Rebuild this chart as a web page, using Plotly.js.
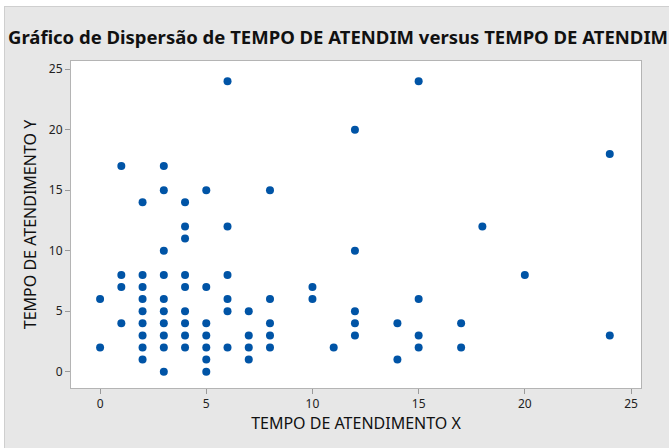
<!DOCTYPE html>
<html>
<head>
<meta charset="utf-8">
<script src="https://cdn.plot.ly/plotly-3.0.1.min.js"></script>
<style>
  html, body { margin: 0; padding: 0; background: #ffffff; }
  #wrap { position: relative; width: 669px; height: 448px; overflow: hidden; }
  #frame { position: absolute; left: 4px; top: 6px; width: 680px; height: 460px;
           background: #e7e7e7; border-left: 1px solid #cfcfcf; border-top: 1px solid #cfcfcf; }
  #chart { position: absolute; left: 0; top: 0; width: 669px; height: 448px; }
</style>
</head>
<body>
<div id="wrap">
  <div id="frame"></div>
  <div id="chart"></div>
</div>
<script>
// Data
const tempoX = [
  0, 0,
  1, 1, 1, 1,
  2, 2, 2, 2, 2, 2, 2, 2, 2,
  3, 3, 3, 3, 3, 3, 3, 3, 3, 3,
  4, 4, 4, 4, 4, 4, 4, 4, 4,
  5, 5, 5, 5, 5, 5, 5,
  6, 6, 6, 6, 6, 6,
  7, 7, 7, 7,
  8, 8, 8, 8, 8,
  10, 10,
  11,
  12, 12, 12, 12, 12,
  14, 14,
  15, 15, 15, 15,
  17, 17,
  18,
  20,
  24, 24
];
const tempoY = [
  6, 2,
  17, 8, 7, 4,
  14, 8, 7, 6, 5, 4, 3, 2, 1,
  17, 15, 10, 8, 6, 5, 4, 3, 2, 0,
  14, 12, 11, 8, 7, 5, 4, 3, 2,
  15, 7, 4, 3, 2, 1, 0,
  24, 12, 8, 6, 5, 2,
  5, 3, 2, 1,
  15, 6, 4, 3, 2,
  7, 6,
  2,
  20, 10, 5, 4, 3,
  4, 1,
  24, 6, 3, 2,
  4, 2,
  12,
  8,
  18, 3
];
const tickVals = [0, 5, 10, 15, 20, 25];
const tickText = ['0', '5', '10', '15', '20', '25'];
const chartTitle = 'Gráfico de Dispersão de TEMPO DE ATENDIM versus TEMPO DE ATENDIM';
const xTitle = 'TEMPO DE ATENDIMENTO X';
const yTitle = 'TEMPO DE ATENDIMENTO Y';

const fontFam = '"Noto Sans", "Open Sans", "DejaVu Sans", sans-serif';

const trace = {
  type: 'scatter',
  mode: 'markers',
  x: tempoX,
  y: tempoY,
  marker: { color: '#0054A6', size: 8, line: { width: 0 } },
  hoverinfo: 'x+y'
};

const axisCommon = {
  tickmode: 'array',
  tickvals: tickVals,
  ticktext: tickText,
  ticks: 'outside',
  ticklen: 5,
  tickwidth: 1,
  tickcolor: '#9a9a9a',
  showgrid: false,
  zeroline: false,
  showline: true,
  mirror: true,
  linecolor: '#b4b4b4',
  linewidth: 1,
  tickfont: { family: fontFam, size: 12, color: '#222222' }
};

const layout = {
  width: 669,
  height: 448,
  paper_bgcolor: 'rgba(0,0,0,0)',
  plot_bgcolor: '#ffffff',
  margin: { l: 71, r: 28, t: 61, b: 60, pad: 0 },
  showlegend: false,
  title: {
    text: '<b>' + chartTitle + '</b>',
    x: 8 / 669,
    xanchor: 'left',
    xref: 'container',
    y: 1 - 38 / 448,
    yanchor: 'middle',
    yref: 'container',
    font: { family: fontFam, size: 18.5, color: '#111111' }
  },
  xaxis: Object.assign({}, axisCommon, {
    range: [-1.37, 25.47],
    title: { text: xTitle, font: { family: fontFam, size: 16, color: '#111111' }, standoff: 5 }
  }),
  yaxis: Object.assign({}, axisCommon, {
    range: [-1.35, 25.68],
    title: { text: yTitle, font: { family: fontFam, size: 16, color: '#111111' }, standoff: 8 }
  })
};

Plotly.newPlot('chart', [trace], layout, { displayModeBar: false, staticPlot: true });
</script>
</body>
</html>
